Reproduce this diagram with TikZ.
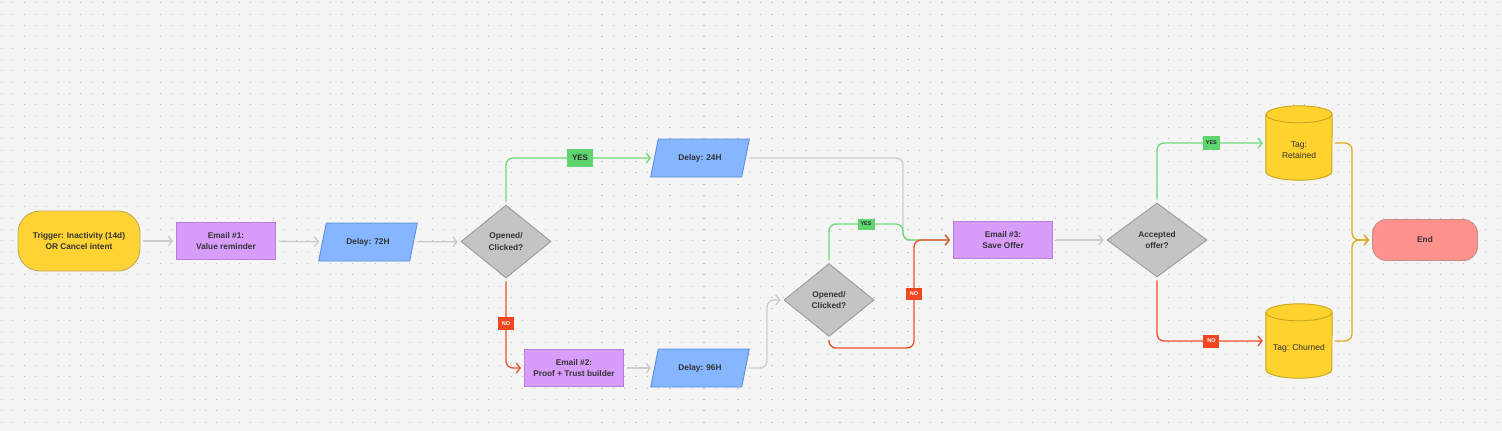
\documentclass[tikz,border=0pt]{standalone}
\usepackage{fontspec}
\setmainfont{Liberation Sans}
\usetikzlibrary{shapes.geometric,arrows.meta}
\definecolor{bgc}{HTML}{F5F5F5}
\definecolor{dotc}{HTML}{C4C4C4}
\definecolor{trigfill}{HTML}{FFD333}
\definecolor{trigline}{HTML}{C2AC5E}
\definecolor{mailfill}{HTML}{D89CFB}
\definecolor{mailline}{HTML}{B57ED8}
\definecolor{waitfill}{HTML}{86B6FF}
\definecolor{waitline}{HTML}{5C8FE0}
\definecolor{chkfill}{HTML}{C4C4C4}
\definecolor{chkline}{HTML}{9B9B9B}
\definecolor{donefill}{HTML}{FF928D}
\definecolor{doneline}{HTML}{C58E8B}
\definecolor{kegfill}{HTML}{FFD22E}
\definecolor{kegline}{HTML}{C9A520}
\definecolor{greyline}{HTML}{CCCCCC}
\definecolor{yesline}{HTML}{6CDB7A}
\definecolor{yesbox}{HTML}{5FD46E}
\definecolor{noline}{HTML}{F0502A}
\definecolor{nobox}{HTML}{F24822}
\definecolor{goldline}{HTML}{D8AD1F}
\definecolor{txt}{HTML}{333333}
% cylinder drawn round a named node
\newcommand\drum[1]{%
  \draw[keg] ([yshift=-8.5pt]#1.north west) -- ([yshift=8.5pt]#1.south west)
    arc[start angle=180,end angle=360,x radius=33pt,y radius=8.5pt]
    -- ([yshift=-8.5pt]#1.north east)
    arc[start angle=0,end angle=180,x radius=33pt,y radius=8.5pt] -- cycle;
  \draw[keg] ([yshift=-8.5pt]#1.north west)
    arc[start angle=180,end angle=360,x radius=33pt,y radius=8.5pt];}
\begin{document}
\begin{tikzpicture}[x=1pt,y=-1pt,
    box/.style={text=txt,font=\fontsize{8.3}{11.5}\selectfont\bfseries,align=center,line width=0.9pt},
    trig/.style={box,fill=trigfill,draw=trigline,rounded corners=22pt,minimum width=122,minimum height=60},
    mail/.style={box,fill=mailfill,draw=mailline,minimum width=99,minimum height=37},
    wait/.style={box,fill=waitfill,draw=waitline,trapezium,trapezium left angle=63,trapezium right angle=117,trapezium stretches=true,minimum width=99,minimum height=38,inner sep=0pt},
    chk/.style={box,fill=chkfill,draw=chkline,diamond,aspect=1.2,inner sep=0pt,minimum width=90,minimum height=73},
    fin/.style={box,fill=donefill,draw=doneline,rounded corners=14pt,minimum width=105,minimum height=41},
    keg/.style={fill=kegfill,draw=kegline,line width=0.9pt},
    kegbox/.style={minimum width=66,minimum height=74,inner sep=0pt},
    kegtag/.style={text=txt,font=\fontsize{8.5}{11.5}\selectfont,align=center},
    conn/.style={line width=1.3pt,rounded corners=7pt,-{Straight Barb[length=4pt,width=10pt]},shorten <=3pt,shorten >=3pt},
    grey/.style={conn,draw=greyline},
    yes/.style={conn,draw=yesline},
    no/.style={conn,draw=noline},
    gold/.style={conn,draw=goldline},
    yestag/.style={sharp corners,fill=yesbox,text=black!85,font=\fontsize{5.5}{6}\selectfont\bfseries,inner sep=1pt,minimum width=17,minimum height=12},
    notag/.style={sharp corners,fill=nobox,text=white,font=\fontsize{5.5}{6}\selectfont\bfseries,inner sep=1pt,minimum width=16,minimum height=13}]
  \useasboundingbox (0,0) rectangle (1502,431);
  \fill[bgc] (0,0) rectangle (1502,431);
  \foreach \i in {0,...,132}
    \foreach \j in {0,...,37}
      \fill[dotc] (1+\i*11.33,2.3+\j*11.33) rectangle ++(1.1,1.1);
  % nodes
  \node[trig] (trig) at (79,241) {Trigger: Inactivity (14d)\\OR Cancel intent};
  \node[mail] (mail1) at (226,241) {Email \#1:\\Value reminder};
  \node[wait] (wait72) at (368,242) {Delay: 72H};
  \node[chk] (chk1) at (506,241.5) {Opened/\\Clicked?};
  \node[wait] (wait24) at (700,158) {Delay: 24H};
  \node[mail] (mail2) at (574,368) {Email \#2:\\Proof + Trust builder};
  \node[wait] (wait96) at (700,368) {Delay: 96H};
  \node[chk] (chk2) at (829,300) {Opened/\\Clicked?};
  \node[mail] (mail3) at (1003,240) {Email \#3:\\Save Offer};
  \node[chk,minimum width=100,minimum height=74] (offer) at (1157,240) {Accepted\\offer?};
  \node[kegbox] (kept) at (1299,143) {};
  \drum{kept}
  \node[kegtag] (keptx) at (1299,150) {Tag:\\Retained};
  \node[kegbox] (lost) at (1299,341) {};
  \drum{lost}
  \node[kegtag] (lostx) at (1299,348) {Tag: Churned};
  \node[fin] (done) at (1425,240) {End};
  % connectors
  \draw[grey] (trig) -- (mail1);
  \draw[grey] (mail1) -- (wait72);
  \draw[grey] (wait72) -- (chk1);
  \draw[grey] (mail2) -- (wait96);
  \draw[grey] (wait96.east) -- (767,368) -- (767,300) -- (chk2.west);
  \draw[grey] (wait24.east) -- (903,158) -- (903,240) -- (mail3.west);
  \draw[grey] (mail3) -- (offer);
  \draw[yes] (chk1.north) |- node[yestag,pos=0.75,minimum width=26,minimum height=18,font=\fontsize{8}{9}\selectfont\bfseries] {YES} (wait24.west);
  \draw[yes] (chk2.north) -- (829,224) -- node[yestag,minimum height=11] {YES} (903,224) -- (903,240) -- (mail3.west);
  \draw[yes] (offer.north) |- node[yestag,pos=0.75,minimum height=14] {YES} (kept.west);
  \draw[no] (chk1.south) |- node[notag,pos=0.25] {NO} (mail2.west);
  \draw[no] (chk2.south) -- (829,348) -- (914,348) -- node[notag,minimum height=12] {NO} (914,240) -- (mail3.west);
  \draw[no] (offer.south) |- node[notag,pos=0.75] {NO} (lost.west);
  \draw[gold] (kept.east) -- (1352,143) -- (1352,240) -- (done.west);
  \draw[gold] (lost.east) -- (1352,341) -- (1352,240) -- (done.west);
\end{tikzpicture}
\end{document}
